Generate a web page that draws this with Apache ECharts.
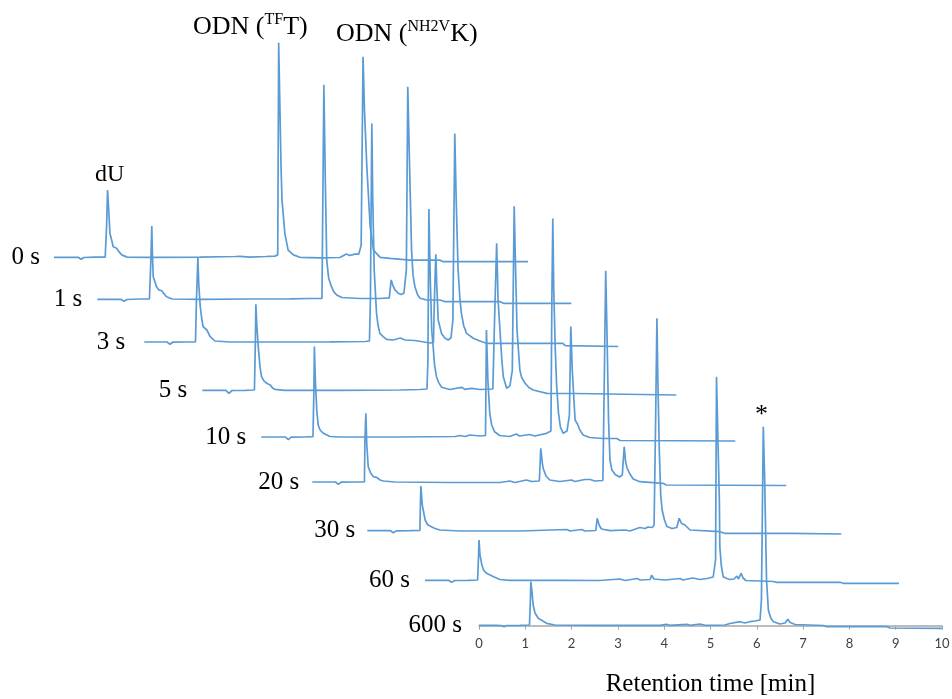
<!DOCTYPE html>
<html><head><meta charset="utf-8">
<script src="https://cdn.jsdelivr.net/npm/echarts@6/dist/echarts.min.js"></script>
<style>html,body{margin:0;padding:0;background:#fff}#c{width:952px;height:699px}</style>
</head><body><div id="c"></div>
<script>
// ---------- DATA (retention time [min], absorbance [a.u.]) ----------
const traceNames = ['0 s', '1 s', '3 s', '5 s', '10 s', '20 s', '30 s', '60 s', '600 s'];
const xTickValues = [0, 1, 2, 3, 4, 5, 6, 7, 8, 9, 10];
const xTitle = 'Retention time [min]';

const trace0s = [[0,0],[0.34,0],[0.51,0],[0.57,-1],[0.63,-0.1],[0.86,0.1],[1.08,0.1],[1.11,16],[1.13,33.6],[1.16,21],[1.18,12],[1.25,5.3],[1.32,4.5],[1.36,3.1],[1.43,1.2],[1.54,0.1],[2.03,0],[3.08,0.1],[3.82,0.4],[3.92,0.5],[4.14,0.1],[4.47,0.4],[4.66,0.6],[4.72,1.2],[4.74,107.3],[4.79,45.3],[4.81,28.7],[4.87,12],[4.94,3.6],[5.05,1.2],[5.19,0],[5.61,-0.25],[6.03,-0.1],[6.17,1.7],[6.24,0.9],[6.35,1.6],[6.43,1.6],[6.48,6],[6.52,100.3],[6.55,73.6],[6.6,45.3],[6.67,15.3],[6.74,3.6],[6.88,0],[7.09,-0.5],[7.51,-1.4],[8.14,-1.4],[8.21,-2.2],[10,-2.2]];
const trace1s = [[0,0],[0.37,0],[0.5,0],[0.56,-1],[0.63,-0.1],[0.9,0.15],[1.1,0.15],[1.13,19.7],[1.15,36.7],[1.16,24.7],[1.18,11.3],[1.25,6.3],[1.3,4.7],[1.36,4.3],[1.41,2.7],[1.46,1.3],[1.58,0.15],[2.17,0],[3.22,0.15],[4.06,0.25],[4.49,0.4],[4.74,0.4],[4.76,1.2],[4.78,107.3],[4.81,59.7],[4.84,19.7],[4.88,10.7],[4.94,6.3],[4.99,3.7],[5.05,2.2],[5.16,0.9],[5.54,0.4],[5.96,0.4],[6.16,0.7],[6.2,9.7],[6.24,6.7],[6.28,4.7],[6.34,3.2],[6.41,2.4],[6.47,3.2],[6.52,14.7],[6.55,106.3],[6.59,64.7],[6.63,24.7],[6.66,12.2],[6.7,6.3],[6.76,2.2],[6.81,0.5],[6.95,-0.35],[7.23,-0.35],[7.34,-1.2],[8.5,-1.2],[8.57,-2],[10,-2]];
const trace3s = [[0,0],[0.33,0],[0.48,0],[0.54,-1.15],[0.6,-0.1],[0.86,0],[1.08,0.1],[1.1,21],[1.13,42],[1.15,28.5],[1.18,17.7],[1.21,12],[1.24,7.7],[1.32,6],[1.39,2.7],[1.49,0.5],[1.81,0],[2.86,0],[3.92,0.1],[4.66,0.25],[4.75,0.5],[4.77,21],[4.8,109.3],[4.82,71],[4.85,36],[4.9,14.3],[4.93,8.5],[4.97,4.3],[5.04,2.7],[5.11,1.3],[5.25,1],[5.4,2],[5.5,1],[5.71,0.75],[6.03,-0.5],[6.1,-0.25],[6.12,21],[6.15,43.9],[6.17,28.5],[6.2,11],[6.27,4.3],[6.34,2],[6.41,1],[6.47,2],[6.51,11],[6.55,104.3],[6.58,71],[6.62,36],[6.66,21],[6.69,14.3],[6.74,8],[6.8,4.3],[6.94,1.85],[7.08,0.5],[7.22,-0.65],[8.83,-0.65],[8.88,-1.85],[10,-2.25]];
const trace5s = [[0,0],[0.37,0],[0.5,0],[0.56,-1.5],[0.63,-0.1],[0.9,0],[1.1,0.15],[1.12,25],[1.13,43],[1.15,32.7],[1.18,21.8],[1.22,11.2],[1.25,6.8],[1.3,4.7],[1.36,3.5],[1.43,2.7],[1.48,1.2],[1.53,0.5],[1.74,0],[2.9,0],[4.17,0.15],[4.59,0.4],[4.74,0.65],[4.76,15],[4.78,90.7],[4.81,55],[4.84,30],[4.87,21.8],[4.9,12.7],[4.94,6.8],[4.99,3.7],[5.05,1.5],[5.22,0.4],[5.47,1.5],[5.54,0.5],[5.68,1],[5.86,0.4],[6.13,0.65],[6.16,30],[6.21,73.5],[6.24,45],[6.28,30],[6.32,15],[6.35,6.8],[6.42,1],[6.49,2.2],[6.54,10],[6.58,92],[6.61,60],[6.64,30],[6.7,10],[6.74,6.2],[6.81,3.5],[6.89,1.4],[6.98,0.15],[7.27,-1.5],[7.86,-1.6],[7.9,-2.35],[10,-2.35]];
const trace10s = [[0,0],[0.39,0],[0.51,0],[0.57,-1.35],[0.63,-0.1],[0.92,0],[1.09,0.15],[1.11,23.5],[1.12,45.2],[1.14,28.5],[1.17,13.5],[1.2,6],[1.24,3.5],[1.31,1.85],[1.36,1.25],[1.45,0.25],[1.66,0],[2.93,0],[4.09,0.25],[4.19,0.75],[4.3,0.25],[4.4,1],[4.61,0.5],[4.73,0.75],[4.75,53.5],[4.78,28.5],[4.82,11.85],[4.86,6],[4.92,2.65],[5.03,0.75],[5.24,0.25],[5.38,1.5],[5.45,0.5],[5.66,1.25],[5.77,0.5],[6.02,1.85],[6.11,3],[6.13,68.5],[6.15,109.3],[6.17,73.5],[6.2,45.2],[6.23,26],[6.27,11.85],[6.31,5],[6.37,1.85],[6.45,3],[6.5,11],[6.53,55.2],[6.56,33.5],[6.62,8.5],[6.67,6.5],[6.72,3.5],[6.79,1],[6.93,-0.25],[7.21,-0.75],[7.5,-0.75],[7.57,-1.75],[10,-2]];
const trace20s = [[0,0],[0.37,0],[0.49,0],[0.55,-1.15],[0.61,-0.1],[0.9,0],[1.1,0.1],[1.11,21],[1.13,34.3],[1.15,18.5],[1.18,7.65],[1.23,4.5],[1.29,2.65],[1.36,2.25],[1.43,1],[1.5,0.5],[1.74,0],[2.9,-0.25],[3.96,-0.25],[4.17,0.5],[4.27,-0.25],[4.52,1],[4.63,0.25],[4.79,0.5],[4.82,16.85],[4.85,10],[4.87,6.85],[4.93,3],[5.01,1],[5.22,0.25],[5.47,1],[5.54,0.25],[5.75,1.25],[5.86,1.25],[5.96,0.5],[6.13,0.75],[6.16,51],[6.19,105.65],[6.22,71],[6.25,31],[6.28,11],[6.32,6],[6.39,3.75],[6.48,2.5],[6.54,3.5],[6.58,17.65],[6.61,10],[6.64,7],[6.67,6],[6.7,4],[6.77,1.5],[6.91,0.15],[7.4,-0.65],[7.47,-1.5],[10,-1.75]];
const trace30s = [[0,0],[0.37,0],[0.49,0],[0.55,-1],[0.61,-0.1],[0.9,0],[1.11,0.1],[1.12,12.85],[1.13,22.35],[1.16,12.85],[1.22,5.35],[1.27,3.1],[1.32,2.35],[1.36,2.85],[1.43,1.1],[1.53,0.35],[1.96,-0.15],[3.22,-0.15],[4.21,0.6],[4.28,-0.15],[4.52,0.6],[4.59,-0.15],[4.82,0.1],[4.85,6.2],[4.89,2.85],[4.94,0.85],[5.12,0],[5.44,0.35],[5.54,-0.15],[5.75,1.6],[5.86,1.1],[5.92,1.85],[6.01,1.6],[6.05,2.85],[6.08,50.35],[6.11,106.2],[6.13,75.35],[6.16,40.35],[6.19,17.85],[6.22,10.35],[6.27,5.35],[6.32,2.1],[6.43,1.1],[6.53,1.6],[6.58,6.2],[6.63,3.6],[6.67,4.5],[6.7,2.85],[6.81,0.35],[7.44,-0.5],[7.54,-1.3],[8.92,-1.3],[10,-1.65]];
const trace60s = [[0,0],[0.32,0],[0.5,0],[0.56,-1],[0.63,-0.1],[0.91,0],[1.11,0.15],[1.13,12.65],[1.14,20.15],[1.16,12.65],[1.2,7.65],[1.24,4.9],[1.3,3.5],[1.35,2.9],[1.39,3.15],[1.46,1.65],[1.58,0.4],[1.79,0],[2.85,0],[3.69,-0.1],[4.11,0.65],[4.22,-0.1],[4.47,0.9],[4.54,0.15],[4.75,0.4],[4.78,2.5],[4.83,0.65],[5.06,0.15],[5.38,0.9],[5.44,0.15],[5.65,1.15],[5.8,0.4],[5.95,0.9],[6.08,1.65],[6.13,10.15],[6.15,101.8],[6.18,70.15],[6.21,40.15],[6.22,16.8],[6.25,7.65],[6.29,1.8],[6.37,0.9],[6.43,0.4],[6.52,0.65],[6.58,2.15],[6.61,0.65],[6.67,3.5],[6.71,1.15],[6.77,-0.1],[7.35,-0.6],[7.41,-1],[8.76,-1],[8.82,-1.5],[10,-1.5]];
const trace600s = [[0,0.2],[0.35,0.2],[0.48,0.1],[0.54,-0.5],[0.6,0.1],[0.89,0.2],[1.09,0.35],[1.11,12.85],[1.12,22],[1.14,17.85],[1.17,10.35],[1.21,6.35],[1.28,3.7],[1.36,2.6],[1.46,1.2],[1.64,0.35],[2.61,0.2],[3.91,0.2],[4.05,0.7],[4.12,0.2],[4.49,0.7],[4.56,0.2],[4.77,0.85],[4.88,0.2],[5.31,0.35],[5.42,1.1],[5.64,2],[5.74,1.35],[5.85,2],[5.96,2.35],[6.07,2.85],[6.1,12.85],[6.14,99.5],[6.17,72.85],[6.21,22.85],[6.25,7.85],[6.3,3.85],[6.36,2],[6.5,0.85],[6.61,1.35],[6.67,3.2],[6.72,1.6],[6.83,0.6],[7.44,0.1],[7.51,-0.5],[8.81,-0.5],[8.88,-1.15],[10,-1.3]];
const traces = [trace0s, trace1s, trace3s, trace5s, trace10s, trace20s, trace30s, trace60s, trace600s];

// ---------- LAYOUT (pixels) ----------
const plotLeft  = [54, 97.3, 144.3, 202.3, 261.3, 312.3, 367.3, 425, 479];
const plotZeroY = [257.3, 299.3, 342, 390.3, 437, 482, 530.7, 580.3, 625.7];
const plotWidth = [474, 474, 474, 474, 474, 474, 474, 474, 463];
const labelGap  = [14, 15, 19, 15, 15, 13, 12, 15, 17];
const Y_MIN = -10, Y_MAX = 115, PX_PER_UNIT = 2;
const LINE_COLOR = '#5b9bd5';
const SERIF = '"Liberation Serif", "Times New Roman", serif';

const grids = [], xAxes = [], yAxes = [], series = [];
traces.forEach((tr, i) => {
  const last = i === traces.length - 1;
  const yMin = last ? 0 : Y_MIN;   // bottom panel: x axis sits on the zero line
  grids.push({
    left: plotLeft[i], width: plotWidth[i],
    top: plotZeroY[i] - Y_MAX * PX_PER_UNIT,
    height: (Y_MAX - yMin) * PX_PER_UNIT,
    containLabel: false,
    outerBoundsMode: 'none'
  });
  xAxes.push({
    gridIndex: i, type: 'value', min: 0, max: 10, interval: 1,
    show: last,
    axisLine: { show: last, onZero: false, lineStyle: { color: '#a6a6a6', width: 1.5 } },
    axisTick: { show: last, length: 4, lineStyle: { color: '#a6a6a6' } },
    axisLabel: { show: last, margin: 12, color: '#404040', fontFamily: 'Lato, "Open Sans", sans-serif', fontSize: 13,
                 formatter: v => xTickValues.includes(v) ? String(v) : '' },
    splitLine: { show: false },
    name: last ? xTitle : '', nameLocation: 'middle', nameGap: 46,
    nameTextStyle: { fontFamily: SERIF, fontSize: 25, color: '#000' }
  });
  yAxes.push({
    gridIndex: i, type: 'value', min: yMin, max: Y_MAX, interval: 5,
    axisLine: { show: false }, axisTick: { show: false }, splitLine: { show: false },
    axisLabel: { show: true, margin: labelGap[i], color: '#000', fontFamily: SERIF, fontSize: 25,
                 formatter: v => v === 0 ? traceNames[i] : '' }
  });
  series.push({
    name: traceNames[i], type: 'line', xAxisIndex: i, yAxisIndex: i,
    data: tr, showSymbol: false, symbol: 'none', smooth: false, clip: false,
    lineStyle: { color: LINE_COLOR, width: 1.7 }, z: 2 + i
  });
});

const chart = echarts.init(document.getElementById('c'), null, { renderer: 'canvas' });
chart.setOption({
  animation: false,
  backgroundColor: '#fff',
  grid: grids, xAxis: xAxes, yAxis: yAxes, series: series,
  graphic: [
    { type: 'text', left: 95, top: 163, style: { text: 'dU', fontFamily: SERIF, fontSize: 24, fill: '#000' } },
    { type: 'text', left: 193, top: 12, style: {
        text: '{a|ODN (}{b|TF}{a|T)}', fontFamily: SERIF, fill: '#000',
        rich: { a: { fontFamily: SERIF, fontSize: 26, lineHeight: 30 }, b: { fontFamily: SERIF, fontSize: 16, lineHeight: 16, verticalAlign: 'top' } } } },
    { type: 'text', left: 336, top: 19, style: {
        text: '{a|ODN (}{b|NH2V}{a|K)}', fontFamily: SERIF, fill: '#000',
        rich: { a: { fontFamily: SERIF, fontSize: 26, lineHeight: 30 }, b: { fontFamily: SERIF, fontSize: 16, lineHeight: 16, verticalAlign: 'top' } } } },
    { type: 'text', left: 755, top: 402, style: { text: '*', fontFamily: SERIF, fontSize: 26, fill: '#000' } }
  ]
});
</script></body></html>
